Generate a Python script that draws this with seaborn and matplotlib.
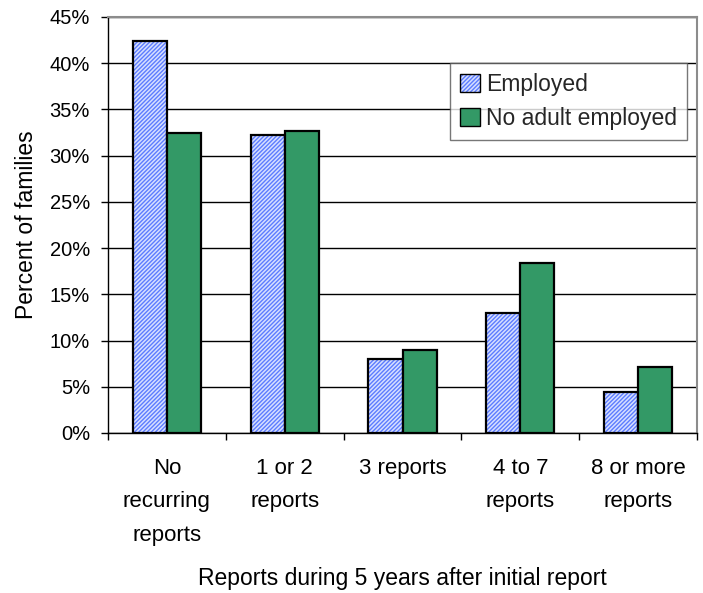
import matplotlib
matplotlib.use("Agg")
import matplotlib.pyplot as plt
import matplotlib.patches as mpatches
from matplotlib.ticker import FixedLocator, FuncFormatter
import numpy as np
import pandas as pd
import seaborn as sns

# Share of families by number of recurring reports, split by employment status
categories = ["No\nrecurring\nreports", "1 or 2\nreports", "3 reports",
              "4 to 7\nreports", "8 or more\nreports"]
employed = [42.4, 32.2, 8.0, 13.0, 4.4]
no_adult_employed = [32.5, 32.7, 9.0, 18.4, 7.1]
series_names = ["Employed", "No adult employed"]

df = pd.DataFrame({
    "category": categories * 2,
    "series": [series_names[0]] * len(categories) + [series_names[1]] * len(categories),
    "value": employed + no_adult_employed,
})

sns.set_theme(style="white")
plt.rcParams["font.family"] = ["Liberation Sans", "DejaVu Sans"]
plt.rcParams["hatch.linewidth"] = 1.0

blue_face = "#d6dfff"
hatch_blue = "#5c7cff"
green = "#339966"
hatch_style = "////////"


def set_blue_hatch(patch):
    patch.set_hatch(hatch_style)
    if hasattr(patch, "set_hatchcolor"):
        patch.set_hatchcolor(hatch_blue)
    else:
        patch._hatch_color = matplotlib.colors.to_rgba(hatch_blue)


fig = plt.figure(figsize=(7.03, 5.93), dpi=100)
ax = fig.add_axes([108 / 703, 1 - 433 / 593, (697 - 108) / 703, (433 - 17) / 593])

sns.barplot(data=df, x="category", y="value", hue="series", order=categories,
            hue_order=series_names, palette=[blue_face, green],
            width=0.58, gap=0, dodge=True, saturation=1, errorbar=None,
            edgecolor="black", linewidth=1.6, legend=False, ax=ax, zorder=3)

n = len(categories)
for bar in ax.patches[:n]:
    set_blue_hatch(bar)

ax.set_ylim(0, 45)
ax.set_xlim(-0.5, n - 0.5)
ax.set_yticks(np.arange(0, 46, 5))
ax.yaxis.set_major_formatter(FuncFormatter(lambda v, _: f"{v:.0f}%"))
ax.yaxis.grid(True, color="black", linewidth=1.0, zorder=0)
ax.set_axisbelow(True)

ax.tick_params(axis="y", which="major", direction="out", length=5, width=1,
               color="black", left=True, labelsize=14.5, pad=8, labelcolor="black")
ax.tick_params(axis="x", which="major", length=0, labelsize=16, pad=18,
               labelcolor="black")
ax.xaxis.set_minor_locator(FixedLocator(np.arange(-0.5, n, 1.0)))
ax.tick_params(axis="x", which="minor", direction="out", length=5, width=1,
               color="black", bottom=True)
for lab in ax.get_xticklabels():
    lab.set_linespacing(1.78)

for side in ("left", "bottom"):
    ax.spines[side].set_color("black")
    ax.spines[side].set_linewidth(1.0)
for side in ("top", "right"):
    ax.spines[side].set_visible(True)
    ax.spines[side].set_color("#8c8c8c")
    ax.spines[side].set_linewidth(1.5)

ax.set_xlabel("Reports during 5 years after initial report", fontsize=16.5,
              color="black", labelpad=15)
ax.set_ylabel("Percent of families", fontsize=16.5, color="black", labelpad=8)

legend_blue = mpatches.Patch(facecolor=blue_face, edgecolor="black",
                             linewidth=1.0, label=series_names[0])
set_blue_hatch(legend_blue)
handles = [
    legend_blue,
    mpatches.Patch(facecolor=green, edgecolor="black", linewidth=1.0,
                   label=series_names[1]),
]
leg = ax.legend(handles=handles, loc="upper right",
                bbox_to_anchor=((687 - 108) / 589, (433 - 63) / 416),
                fontsize=16.5, frameon=True, fancybox=False, handlelength=0.85,
                handleheight=0.85, handletextpad=0.3, borderpad=0.42,
                labelspacing=0.5, borderaxespad=0)
leg.get_frame().set_edgecolor("#555555")
leg.get_frame().set_linewidth(1.0)

fig.savefig("out.png", dpi=100, facecolor="white")
